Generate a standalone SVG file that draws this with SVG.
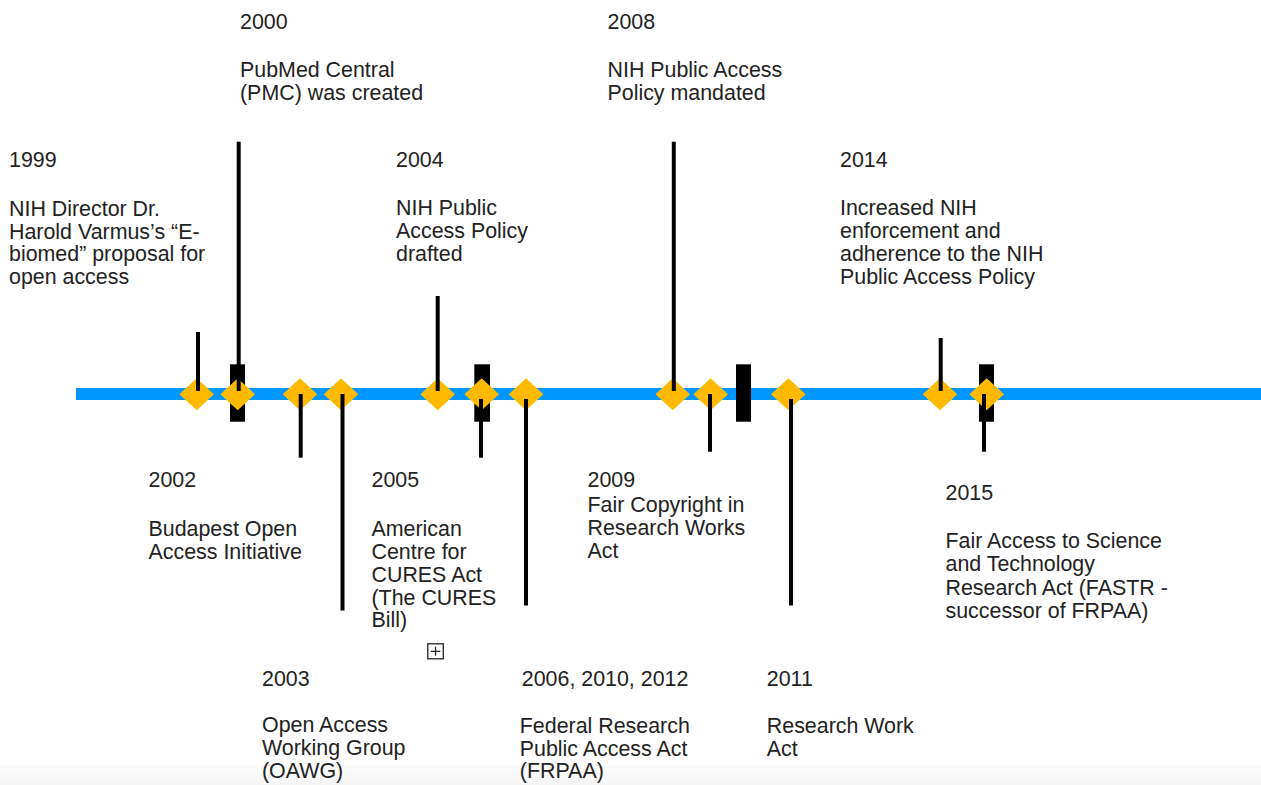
<svg xmlns="http://www.w3.org/2000/svg" xmlns:xlink="http://www.w3.org/1999/xlink" width="1261" height="785" viewBox="0 0 1261 785">
<style>
  text { font-family: "Liberation Sans", Arial, Helvetica, sans-serif; font-size: 21.4px; fill: #222; }
  .axis { fill: #0096ff; }
  .dia { fill: #ffba00; }
  .bar { fill: #000; }
  .lead { stroke: #000; stroke-width: 4; fill: none; }
</style>
<defs>
  <polygon id="dia" class="dia" points="0,-15 16.3,0 0,15 -16.3,0" stroke="#ffba00" stroke-width="1.5" stroke-linejoin="round"/>
  <linearGradient id="band" x1="0" y1="0" x2="0" y2="1">
    <stop offset="0" stop-color="#fbfbfb"/>
    <stop offset="1" stop-color="#f5f5f5"/>
  </linearGradient>
</defs>
<rect width="1261" height="785" fill="#fff"/>
<rect x="0" y="765" width="1261" height="20" fill="url(#band)"/>

<g id="timeline">
  <rect class="axis" x="76" y="388" width="1185" height="12"/>
  <rect class="bar" x="230" y="364.3" width="15" height="57.4"/>
  <rect class="bar" x="474.3" y="364.3" width="15.7" height="57.4"/>
  <rect class="bar" x="736" y="364.3" width="15" height="57.4"/>
  <rect class="bar" x="979" y="364.3" width="15" height="57.4"/>
</g>

<g id="e1999">
  <use xlink:href="#dia" x="196.7" y="394.3"/>
  <text x="9" y="167">1999</text>
  <text x="9" y="216">NIH Director Dr.</text>
  <text x="9" y="238.5">Harold Varmus’s “E-</text>
  <text x="9" y="261">biomed” proposal for</text>
  <text x="9" y="283.5">open access</text>
</g>
<g id="e2000">
  <use xlink:href="#dia" x="237.7" y="394.3"/>
  <text x="240" y="28.8">2000</text>
  <text x="240" y="77">PubMed Central</text>
  <text x="240" y="99.5">(PMC) was created</text>
</g>
<g id="e2002">
  <use xlink:href="#dia" x="300" y="394.3"/>
  <text x="148.5" y="487">2002</text>
  <text x="148.5" y="535.5">Budapest Open</text>
  <text x="148.5" y="558.5">Access Initiative</text>
</g>
<g id="e2003">
  <use xlink:href="#dia" x="341" y="394.3"/>
  <text x="262" y="686">2003</text>
  <text x="262" y="732">Open Access</text>
  <text x="262" y="755">Working Group</text>
  <text x="262" y="778">(OAWG)</text>
</g>
<g id="e2004">
  <use xlink:href="#dia" x="437.7" y="394.3"/>
  <text x="396" y="167">2004</text>
  <text x="396" y="215">NIH Public</text>
  <text x="396" y="238">Access Policy</text>
  <text x="396" y="261">drafted</text>
</g>
<g id="e2005">
  <use xlink:href="#dia" x="481.7" y="394.3"/>
  <text x="371.5" y="486.7">2005</text>
  <text x="371.5" y="536">American</text>
  <text x="371.5" y="558.5">Centre for</text>
  <text x="371.5" y="581.5">CURES Act</text>
  <text x="371.5" y="604.5">(The CURES</text>
  <text x="371.5" y="627">Bill)</text>
  <rect x="427.8" y="643.8" width="15.5" height="15" fill="#fff" stroke="#222" stroke-width="1.3"/>
  <path d="M430.8,651.3 H440.3 M435.55,646.8 V655.8" stroke="#222" stroke-width="1.3" fill="none"/>
</g>
<g id="e2006">
  <use xlink:href="#dia" x="526" y="394.3"/>
  <text x="521.8" y="686">2006, 2010, 2012</text>
  <text x="519.8" y="732.5">Federal Research</text>
  <text x="519.8" y="755.5">Public Access Act</text>
  <text x="519.8" y="778">(FRPAA)</text>
</g>
<g id="e2008">
  <use xlink:href="#dia" x="672.7" y="394.3"/>
  <text x="607.5" y="28.8">2008</text>
  <text x="607.5" y="77">NIH Public Access</text>
  <text x="607.5" y="99.5">Policy mandated</text>
</g>
<g id="e2009">
  <use xlink:href="#dia" x="710.7" y="394.3"/>
  <text x="587.5" y="486.7">2009</text>
  <text x="587.5" y="511.7">Fair Copyright in</text>
  <text x="587.5" y="535">Research Works</text>
  <text x="587.5" y="558.3">Act</text>
</g>
<g id="e2011">
  <use xlink:href="#dia" x="788.3" y="394.3"/>
  <text x="766.8" y="686">2011</text>
  <text x="766.8" y="732.5">Research Work</text>
  <text x="766.8" y="755.5">Act</text>
</g>
<g id="e2014">
  <use xlink:href="#dia" x="940" y="394.3"/>
  <text x="840" y="167">2014</text>
  <text x="840" y="215">Increased NIH</text>
  <text x="840" y="238">enforcement and</text>
  <text x="840" y="261">adherence to the NIH</text>
  <text x="840" y="284">Public Access Policy</text>
</g>
<g id="e2015">
  <use xlink:href="#dia" x="986.7" y="394.3"/>
  <text x="945.5" y="499.8">2015</text>
  <text x="945.5" y="548">Fair Access to Science</text>
  <text x="945.5" y="571.3">and Technology</text>
  <text x="945.5" y="594.6">Research Act (FASTR -</text>
  <text x="945.5" y="617.9">successor of FRPAA)</text>
</g>

<g id="connectors" class="lead">
  <line x1="198" y1="332" x2="198" y2="391"/>
  <line x1="238.7" y1="141.7" x2="238.7" y2="391"/>
  <line x1="300.7" y1="394" x2="300.7" y2="457.7"/>
  <line x1="342.5" y1="394" x2="342.5" y2="610.5"/>
  <line x1="437.7" y1="296" x2="437.7" y2="391"/>
  <line x1="481" y1="399" x2="481" y2="457.7"/>
  <line x1="526" y1="399" x2="526" y2="605.5"/>
  <line x1="673.8" y1="141.7" x2="673.8" y2="391"/>
  <line x1="710" y1="394" x2="710" y2="451.7"/>
  <line x1="791" y1="399" x2="791" y2="605.5"/>
  <line x1="940.7" y1="338" x2="940.7" y2="391"/>
  <line x1="984" y1="394" x2="984" y2="451.7"/>
</g>
</svg>
